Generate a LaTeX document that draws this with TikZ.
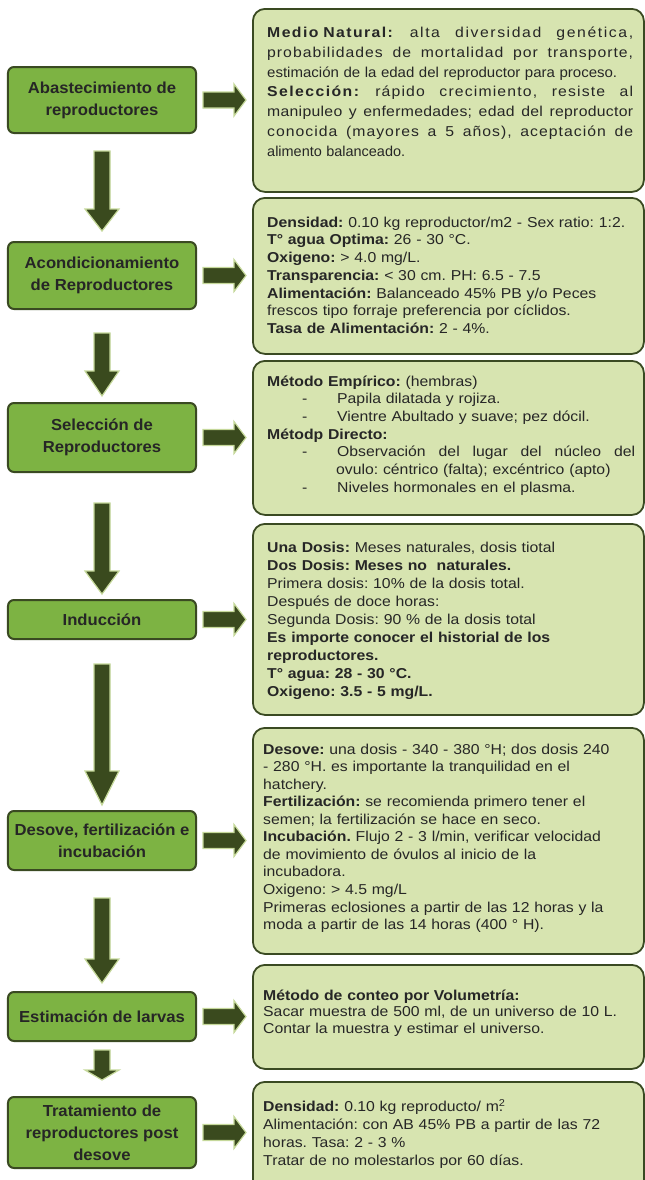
\documentclass[tikz,border=0pt]{standalone}
\usepackage{fontspec}
\usepackage{graphicx}
\newfontfamily\rfont{Liberation Sans}[FakeStretch=1.1]
\newfontfamily\lfont{Liberation Sans}[FakeStretch=1.045]
\usetikzlibrary{calc}
\definecolor{lgreen}{HTML}{7DB343}
\definecolor{rgreen}{HTML}{D7E4B0}
\definecolor{dgreen}{HTML}{3A4A22}
\definecolor{agreen}{HTML}{3A4A1E}
\definecolor{alight}{HTML}{C5D89A}
\definecolor{txt}{HTML}{262626}
\newcommand\myrarr[2]{\draw[arr] ($(#1)+(0,-8)$) -- ($(#2)+(-12,-8)$) -- ($(#2)+(-12,-16)$) -- (#2) -- ($(#2)+(-12,16)$) -- ($(#2)+(-12,8)$) -- ($(#1)+(0,8)$) -- cycle;}
\newcommand\mydarr[3]{\draw[arr] ($(#1)+(-8,0)$) -- ($(#2)+(-8,-#3)$) -- ($(#2)+(-17,-#3)$) -- (#2) -- ($(#2)+(17,-#3)$) -- ($(#2)+(8,-#3)$) -- ($(#1)+(8,0)$) -- cycle;}
\newcommand\dsh{\hspace*{35bp}\makebox[35bp][l]{-}}
\newcommand\fst{\rule{0pt}{14bp}}
\frenchspacing
\begin{document}
\begin{tikzpicture}[x=1bp,y=-1bp,
  lbox/.style={draw=dgreen, fill=lgreen, line width=2bp, rounded corners=6bp,
    minimum width=188bp, align=center, text=txt, inner sep=2bp,
    font=\lfont\bfseries\frenchspacing\fontsize{16}{22}\selectfont},
  rbox/.style={draw=dgreen, fill=rgreen, line width=1.8bp, rounded corners=12bp,
    minimum width=391bp, anchor=north west, inner sep=0pt},
  rtext/.style={anchor=north west, inner sep=0pt, text width=378bp, align=left, text=txt},
  arr/.style={fill=agreen, draw=alight, line width=1.2bp, line join=miter}]
\useasboundingbox (0,0) rectangle (645,1180);

% right boxes
\node[rbox, minimum height=183bp] (R1) at (252,8) {};
\node[rbox, minimum height=156bp] (R2) at (252,197) {};
\node[rbox, minimum height=154bp] (R3) at (252,360) {};
\node[rbox, minimum height=191bp] (R4) at (252,523) {};
\node[rbox, minimum height=226bp] (R5) at (252,727) {};
\node[rbox, minimum height=104bp] (R6) at (252,964) {};
\node[rbox, minimum height=125bp] (R7) at (252,1081) {};

% left boxes
\node[lbox, minimum height=66bp] (L1) at (102,100) {Abastecimiento de\\reproductores};
\node[lbox, minimum height=67bp] (L2) at (102,275.5) {Acondicionamiento\\de Reproductores};
\node[lbox, minimum height=69bp] (L3) at (102,437.5) {Selección de\\Reproductores};
\node[lbox, minimum height=39bp] (L4) at (102,619.5) {Inducción};
\node[lbox, minimum height=59bp] (L5) at (102,840.5) {Desove, fertilización e\\incubación};
\node[lbox, minimum height=49bp] (L6) at (102,1016.5) {Estimación de larvas};
\node[lbox, minimum height=71bp] (L7) at (102,1132.5) {Tratamiento de\\reproductores post\\desove};

% right arrows
\foreach \i in {1,...,7}{
  \coordinate (a\i s) at ($(L\i.east)+(6,0)$);
  \coordinate (a\i e) at ($(L\i.east -| R\i.west)+(-6,0)$);
  \myrarr{a\i s}{a\i e}
}

% down arrows
\coordinate (d1s) at ($(L1.south)+(0,17)$); \coordinate (d1e) at ($(L2.north)+(0,-10)$);
\coordinate (d2s) at ($(L2.south)+(0,23)$); \coordinate (d2e) at ($(L3.north)+(0,-6)$);
\coordinate (d3s) at ($(L3.south)+(0,30)$); \coordinate (d3e) at ($(L4.north)+(0,-5)$);
\coordinate (d4s) at ($(L4.south)+(0,24)$); \coordinate (d4e) at ($(L5.north)+(0,-5)$);
\coordinate (d5s) at ($(L5.south)+(0,27)$); \coordinate (d5e) at ($(L6.north)+(0,-8)$);
\coordinate (d6s) at ($(L6.south)+(0,8)$);  \coordinate (d6e) at ($(L7.north)+(0,-16)$);
\mydarr{d1s}{d1e}{22}
\mydarr{d2s}{d2e}{25}
\mydarr{d3s}{d3e}{23}
\mydarr{d4s}{d4e}{34}
\mydarr{d5s}{d5e}{24}
\mydarr{d6s}{d6e}{10}

% texts
\node[rtext, font=\rfont\frenchspacing\fontsize{14.4}{20}\selectfont] (T1) at (267,23) {\fst
\makebox[366bp][s]{\textbf{\addfontfeature{LetterSpace=10}Medio Natural:}\hspace{5bp}\hfill \addfontfeature{LetterSpace=11}alta \hfill diversidad \hfill genética,}\\
\makebox[366bp][s]{\addfontfeature{LetterSpace=7}probabilidades \hfill de \hfill mortalidad \hfill por \hfill transporte,}\\
\resizebox{350bp}{\height}{estimación de la edad del reproductor para proceso.}\\
\makebox[366bp][s]{\textbf{\addfontfeature{LetterSpace=10}Selección:}\hspace{5bp}\hfill \addfontfeature{LetterSpace=8}rápido \hfill crecimiento, \hfill resiste \hfill al}\\
\makebox[366bp][s]{\addfontfeature{LetterSpace=2}manipuleo \hfill y \hfill enfermedades; \hfill edad \hfill del \hfill reproductor}\\
\makebox[366bp][s]{\addfontfeature{LetterSpace=7}conocida \hfill (mayores \hfill a \hfill 5 \hfill años), \hfill aceptación \hfill de}\\
\resizebox{138bp}{\height}{alimento balanceado.}};

\node[rtext, font=\rfont\frenchspacing\fontsize{14.4}{17.8}\selectfont] (T2) at (267,213) {\fst
\textbf{Densidad:} 0.10 kg reproductor/m2 - Sex ratio: 1:2.\\
\textbf{T° agua Optima:} 26 - 30 °C.\\
\textbf{Oxigeno:} > 4.0 mg/L.\\
\textbf{Transparencia:} < 30 cm. PH: 6.5 - 7.5\\
\textbf{Alimentación:} Balanceado 45\% PB y/o Peces\\
frescos tipo forraje preferencia por cíclidos.\\
\textbf{Tasa de Alimentación:} 2 - 4\%.};

\node[rtext, font=\rfont\frenchspacing\fontsize{14.4}{17.7}\selectfont] (T3) at (267,372) {\fst
\textbf{Método Empírico:} (hembras)\\
\dsh Papila dilatada y rojiza.\\
\dsh Vientre Abultado y suave; pez dócil.\\
\textbf{Métodp Directo:}\\
\dsh\makebox[298bp][s]{Observación \hfill del \hfill lugar \hfill del \hfill núcleo \hfill del}\\
\hspace*{69bp}ovulo: céntrico (falta); excéntrico (apto)\\
\dsh Niveles hormonales en el plasma.};

\node[rtext, font=\rfont\frenchspacing\fontsize{14.4}{18.1}\selectfont] (T4) at (267,538) {\fst
\textbf{Una Dosis:} Meses naturales, dosis tiotal\\
\textbf{Dos Dosis: Meses no\ \ naturales.}\\
Primera dosis: 10\% de la dosis total.\\
Después de doce horas:\\
Segunda Dosis: 90 \% de la dosis total\\
\textbf{Es importe conocer el historial de los}\\
\textbf{reproductores.}\\
\textbf{T° agua: 28 - 30 °C.}\\
\textbf{Oxigeno: 3.5 - 5 mg/L.}};

\node[rtext, font=\rfont\frenchspacing\fontsize{14.4}{17.6}\selectfont] (T5) at (263,740) {\fst
\textbf{Desove:} una dosis - 340 - 380 °H; dos dosis 240\\
- 280 °H. es importante la tranquilidad en el\\
hatchery.\\
\textbf{Fertilización:} se recomienda primero tener el\\
semen; la fertilización se hace en seco.\\
\textbf{Incubación.} Flujo 2 - 3 l/min, verificar velocidad\\
de movimiento de óvulos al inicio de la\\
incubadora.\\
Oxigeno: > 4.5 mg/L\\
Primeras eclosiones a partir de las 12 horas y la\\
moda a partir de las 14 horas (400 ° H).};

\node[rtext, font=\rfont\frenchspacing\fontsize{14.4}{16.8}\selectfont] (T6) at (263,986) {\fst
\textbf{Método de conteo por Volumetría:}\\
Sacar muestra de 500 ml, de un universo de 10 L.\\
Contar la muestra y estimar el universo.};

\node[rtext, font=\rfont\frenchspacing\fontsize{14.4}{18}\selectfont] (T7) at (263,1097) {\fst
\textbf{Densidad:} 0.10 kg reproducto/ m\rlap{\textsuperscript{2}}.\\
Alimentación: con AB 45\% PB a partir de las 72\\
horas. Tasa: 2 - 3 \%\\
Tratar de no molestarlos por 60 días.};
\end{tikzpicture}
\end{document}
